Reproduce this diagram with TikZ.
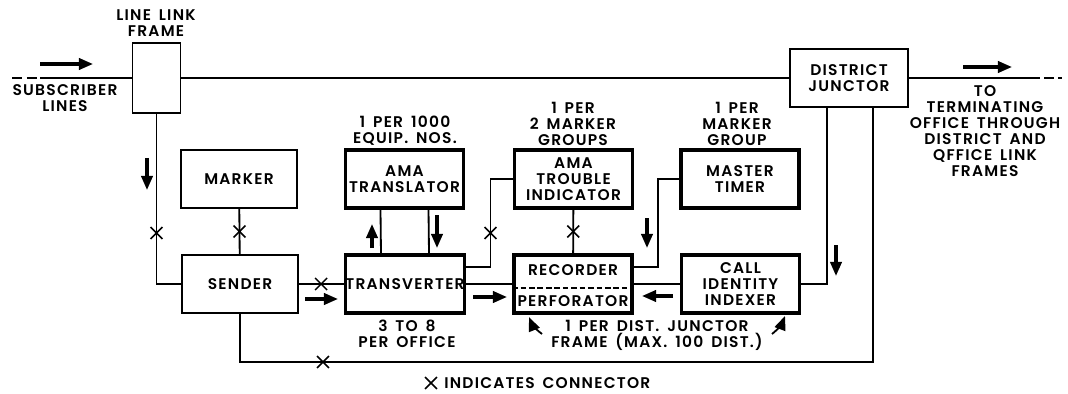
\documentclass[tikz,border=0pt]{standalone}
\usepackage{fontspec}
\setmainfont{Poppins}[LetterSpace=8, WordSpace=1.6, BoldFont={Poppins SemiBold}]
\usetikzlibrary{arrows.meta, positioning, calc, shapes.misc}

\tikzset{
  unit/.style={draw, line width=1pt, minimum width=2.9cm, minimum height=1.45cm, align=center, inner sep=0pt},
  heavy/.style={unit, line width=2.6pt, minimum width=2.95cm},
  note/.style={align=center, inner sep=0pt},
  wire/.style={line width=1.3pt},
  trunk/.style={line width=2pt},
  flow/.style={line width=2.2pt, -{Triangle[length=10pt,width=8pt]}},
  xmark/.style={cross out, draw, line width=1.1pt, minimum size=0.26cm, inner sep=0pt},
}

\begin{document}
\begin{tikzpicture}[x=0.025cm, y=-0.025cm, font=\fontsize{11}{11.4}\selectfont\bfseries]
  \useasboundingbox (0,0) rectangle (1068,394);

  % Frames and junctor
  \node[unit, minimum width=1.2cm, minimum height=1.75cm] (llf) at (156.5,78) {};
  \node[unit, minimum width=2.95cm] (dj) at (849,78) {DISTRICT\\JUNCTOR};

  % Blocks
  \node[unit] (marker) at (239,179) {MARKER};
  \node[unit] (sender) at (240,284) {SENDER};
  \node[heavy] (amatr) at (404.5,179) {AMA\\TRANSLATOR};
  \node[heavy] (transv) at (405,284) {TRANSVERTER};
  \node[heavy] (trouble) at (573.5,179) {AMA\\TROUBLE\\INDICATOR};
  \node[heavy] (recorder) at (573,284) {};
  \node[heavy] (timer) at (740,179) {MASTER\\TIMER};
  \node[heavy] (indexer) at (740.5,284) {CALL\\IDENTITY\\INDEXER};
  \node[note] (rec) at (573,270) {RECORDER};
  \node[note] (perf) at (573,301) {PERFORATOR};
  \draw[wire, dash pattern=on 4pt off 2pt] ([yshift=-0.1cm]recorder.west) -- ([yshift=-0.1cm]recorder.east);

  % Trunk
  \coordinate (inA) at (12,78);
  \coordinate (inB) at (40,78);
  \coordinate (outA) at (1030,78);
  \coordinate (outB) at (1062,78);
  \draw[trunk, dash pattern=on 7pt off 3.5pt] (inA) -- (inB);
  \draw[trunk] (inB) -- (llf.west);
  \draw[trunk] (llf.east) -- (dj.west);
  \draw[trunk] (dj.east) -- (outA);
  \draw[trunk, dash pattern=on 7pt off 3pt] (outA) -- (outB);

  % Connectors
  \coordinate (bus) at (0,362);
  \draw[wire] (llf.south) |- (sender.west);
  \node[xmark] (c1) at (llf.south |- 0,233) {};
  \draw[wire] (marker) -- node[xmark] (c2) {} (sender);
  \draw[wire] (sender) -- node[xmark] (c3) {} (transv);
  \draw[wire] (trouble) -- node[xmark] (c4) {} (recorder);
  \draw[wire] ([yshift=0.425cm]transv.east) -- ++(24,0) coordinate (tk) |- (trouble.west);
  \node[xmark] (c5) at (tk |- 0,233) {};
  \draw[wire] ([xshift=-0.6cm]amatr.south) -- ([xshift=-0.6cm]transv.north);
  \draw[wire] ([xshift=0.6cm]amatr.south) -- ([xshift=0.6cm]transv.north);
  \draw[wire] (transv) -- (recorder);
  \draw[wire] (indexer) -- (recorder);
  \draw[wire] ([yshift=0.425cm]recorder.east) -- ++(24,0) |- (timer.west);
  \draw[wire] (indexer.east) -| ([xshift=-0.55cm]dj.south);
  \draw[wire] ([xshift=0.6cm]dj.south) |- (sender.south |- bus) -- (sender.south);
  \node[xmark] (c6) at (323,362) {};

  % Flow arrows
  \draw[flow] (40,64) -- (93,64);
  \draw[flow] (963,67) -- (1012,67);
  \draw[flow] (147,158) -- (147,190);
  \draw[flow] (372,248) -- (372,224);
  \draw[flow] (437,215) -- (437,248);
  \draw[flow] (305,299) -- (338,299);
  \draw[flow] (473,297) -- (507,297);
  \draw[flow] (673,296) -- (642,296);
  \draw[flow] (647,218) -- (647,248);
  \draw[flow] (836,245) -- (836,276);
  \draw[flow, line width=1.3pt] (542,334) to[bend left=15] (529,317);
  \draw[flow, line width=1.3pt] (772,334) to[bend right=15] (785,316);

  % Labels
  \node[note] (llftxt) at (156,23) {LINE LINK\\FRAME};
  \node[note] (subtxt) at (65,98) {SUBSCRIBER\\LINES};
  \node[note] (amatxt) at (405,131) {1 PER 1000\\EQUIP. NOS.};
  \node[note] (trbtxt) at (573,124) {1 PER\\2 MARKER\\GROUPS};
  \node[note] (tmrtxt) at (737,124) {1 PER\\MARKER\\GROUP};
  \node[note] (totxt) at (985,131) {TO\\TERMINATING\\OFFICE THROUGH\\DISTRICT AND\\QFFICE LINK\\FRAMES};
  \node[note] (trvtxt) at (407,334) {3 TO 8\\PER OFFICE};
  \node[note] (djftxt) at (657,335) {1 PER DIST. JUNCTOR\\FRAME (MAX. 100 DIST.)};
  \node[xmark] (key) at (431,383) {};
  \node[note, anchor=west] (keytxt) at (444,383) {INDICATES CONNECTOR};
\end{tikzpicture}
\end{document}
